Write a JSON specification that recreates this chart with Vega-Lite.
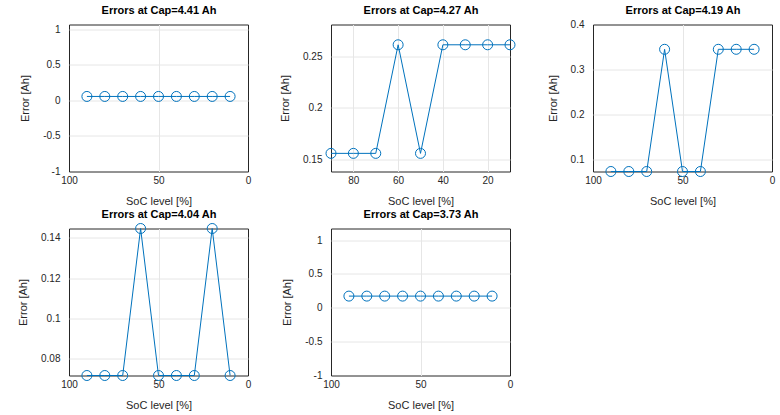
{
  "$schema": "https://vega.github.io/schema/vega-lite/v6.json",
  "background": "white",
  "padding": {"left": 17, "top": 3.5, "right": 5, "bottom": 5},
  "datasets": {
    "d": [
      {"panel": "A", "soc": 90, "err": 0.057}, {"panel": "A", "soc": 80, "err": 0.057}, {"panel": "A", "soc": 70, "err": 0.057},
      {"panel": "A", "soc": 60, "err": 0.057}, {"panel": "A", "soc": 50, "err": 0.057}, {"panel": "A", "soc": 40, "err": 0.057},
      {"panel": "A", "soc": 30, "err": 0.057}, {"panel": "A", "soc": 20, "err": 0.057}, {"panel": "A", "soc": 10, "err": 0.057},
      {"panel": "B", "soc": 90, "err": 0.1555}, {"panel": "B", "soc": 80, "err": 0.1555}, {"panel": "B", "soc": 70, "err": 0.1555},
      {"panel": "B", "soc": 60, "err": 0.2615}, {"panel": "B", "soc": 50, "err": 0.1555}, {"panel": "B", "soc": 40, "err": 0.2615},
      {"panel": "B", "soc": 30, "err": 0.2615}, {"panel": "B", "soc": 20, "err": 0.2615}, {"panel": "B", "soc": 10, "err": 0.2615},
      {"panel": "C", "soc": 90, "err": 0.074}, {"panel": "C", "soc": 80, "err": 0.074}, {"panel": "C", "soc": 70, "err": 0.074},
      {"panel": "C", "soc": 60, "err": 0.345}, {"panel": "C", "soc": 50, "err": 0.074}, {"panel": "C", "soc": 40, "err": 0.074},
      {"panel": "C", "soc": 30, "err": 0.345}, {"panel": "C", "soc": 20, "err": 0.345}, {"panel": "C", "soc": 10, "err": 0.345},
      {"panel": "D", "soc": 90, "err": 0.0717}, {"panel": "D", "soc": 80, "err": 0.0717}, {"panel": "D", "soc": 70, "err": 0.0717},
      {"panel": "D", "soc": 60, "err": 0.1446}, {"panel": "D", "soc": 50, "err": 0.0717}, {"panel": "D", "soc": 40, "err": 0.0717},
      {"panel": "D", "soc": 30, "err": 0.0717}, {"panel": "D", "soc": 20, "err": 0.1446}, {"panel": "D", "soc": 10, "err": 0.0717},
      {"panel": "E", "soc": 90, "err": 0.172}, {"panel": "E", "soc": 80, "err": 0.172}, {"panel": "E", "soc": 70, "err": 0.172},
      {"panel": "E", "soc": 60, "err": 0.172}, {"panel": "E", "soc": 50, "err": 0.172}, {"panel": "E", "soc": 40, "err": 0.172},
      {"panel": "E", "soc": 30, "err": 0.172}, {"panel": "E", "soc": 20, "err": 0.172}, {"panel": "E", "soc": 10, "err": 0.172}
    ]
  },
  "columns": 3,
  "spacing": {"row": 57, "column": 83},
  "bounds": "flush",
  "concat": [
    {
      "width": 179, "height": 147,
      "data": {"name": "d"},
      "transform": [{"filter": "datum.panel == 'A'"}],
      "resolve": {"axis": {"x": "independent"}},
      "layer": [
        {
          "mark": {"type": "line", "color": "#0072BD", "strokeWidth": 1},
          "encoding": {
            "x": {"field": "soc", "type": "quantitative", "title": "SoC level [%]", "scale": {"domain": [0, 100], "reverse": true, "nice": false, "zero": false}, "axis": {"values": [0, 50, 100], "labelExpr": "'' + datum.value", "gridOpacity": {"condition": {"test": "datum.value == 0 || datum.value == 100", "value": 0}, "value": 1}}},
            "y": {"field": "err", "type": "quantitative", "title": "Error [Ah]", "scale": {"domain": [-1, 1.07], "nice": false, "zero": false}, "axis": {"values": [-1, -0.5, 0, 0.5, 1], "labelExpr": "'' + datum.value", "gridOpacity": {"condition": {"test": "datum.value == -1", "value": 0}, "value": 1}}}
          }
        },
        {
          "mark": {"type": "point", "shape": "circle", "filled": false, "size": 100, "color": "#0072BD", "strokeWidth": 1, "opacity": 1},
          "encoding": {
            "x": {"field": "soc", "type": "quantitative", "title": "Errors at Cap=4.41 Ah", "scale": {"domain": [0, 100], "reverse": true, "nice": false, "zero": false}, "axis": {"orient": "top", "labels": false, "grid": false, "domain": false, "ticks": false, "titleFontWeight": "bold", "titleColor": "#000000", "titlePadding": 9.5}},
            "y": {"field": "err", "type": "quantitative", "title": "Error [Ah]", "scale": {"domain": [-1, 1.07], "nice": false, "zero": false}, "axis": {"values": [-1, -0.5, 0, 0.5, 1], "labelExpr": "'' + datum.value", "gridOpacity": {"condition": {"test": "datum.value == -1", "value": 0}, "value": 1}}}
          }
        }
      ]
    },
    {
      "width": 179, "height": 147,
      "data": {"name": "d"},
      "transform": [{"filter": "datum.panel == 'B'"}],
      "resolve": {"axis": {"x": "independent"}},
      "layer": [
        {
          "mark": {"type": "line", "color": "#0072BD", "strokeWidth": 1},
          "encoding": {
            "x": {"field": "soc", "type": "quantitative", "title": "SoC level [%]", "scale": {"domain": [10, 90], "reverse": true, "nice": false, "zero": false}, "axis": {"values": [20, 40, 60, 80], "labelExpr": "'' + datum.value"}},
            "y": {"field": "err", "type": "quantitative", "title": "Error [Ah]", "scale": {"domain": [0.1378, 0.2813], "nice": false, "zero": false}, "axis": {"values": [0.15, 0.2, 0.25], "labelExpr": "'' + datum.value"}}
          }
        },
        {
          "mark": {"type": "point", "shape": "circle", "filled": false, "size": 100, "color": "#0072BD", "strokeWidth": 1, "opacity": 1},
          "encoding": {
            "x": {"field": "soc", "type": "quantitative", "title": "Errors at Cap=4.27 Ah", "scale": {"domain": [10, 90], "reverse": true, "nice": false, "zero": false}, "axis": {"orient": "top", "labels": false, "grid": false, "domain": false, "ticks": false, "titleFontWeight": "bold", "titleColor": "#000000", "titlePadding": 9.5}},
            "y": {"field": "err", "type": "quantitative", "title": "Error [Ah]", "scale": {"domain": [0.1378, 0.2813], "nice": false, "zero": false}, "axis": {"values": [0.15, 0.2, 0.25], "labelExpr": "'' + datum.value"}}
          }
        }
      ]
    },
    {
      "width": 179, "height": 147,
      "data": {"name": "d"},
      "transform": [{"filter": "datum.panel == 'C'"}],
      "resolve": {"axis": {"x": "independent"}},
      "layer": [
        {
          "mark": {"type": "line", "color": "#0072BD", "strokeWidth": 1},
          "encoding": {
            "x": {"field": "soc", "type": "quantitative", "title": "SoC level [%]", "scale": {"domain": [0, 100], "reverse": true, "nice": false, "zero": false}, "axis": {"values": [0, 50, 100], "labelExpr": "'' + datum.value", "gridOpacity": {"condition": {"test": "datum.value == 0 || datum.value == 100", "value": 0}, "value": 1}}},
            "y": {"field": "err", "type": "quantitative", "title": "Error [Ah]", "scale": {"domain": [0.074, 0.4], "nice": false, "zero": false}, "axis": {"values": [0.1, 0.2, 0.3, 0.4], "labelExpr": "'' + datum.value", "gridOpacity": {"condition": {"test": "datum.value == 0.4", "value": 0}, "value": 1}}}
          }
        },
        {
          "mark": {"type": "point", "shape": "circle", "filled": false, "size": 100, "color": "#0072BD", "strokeWidth": 1, "opacity": 1},
          "encoding": {
            "x": {"field": "soc", "type": "quantitative", "title": "Errors at Cap=4.19 Ah", "scale": {"domain": [0, 100], "reverse": true, "nice": false, "zero": false}, "axis": {"orient": "top", "labels": false, "grid": false, "domain": false, "ticks": false, "titleFontWeight": "bold", "titleColor": "#000000", "titlePadding": 9.5}},
            "y": {"field": "err", "type": "quantitative", "title": "Error [Ah]", "scale": {"domain": [0.074, 0.4], "nice": false, "zero": false}, "axis": {"values": [0.1, 0.2, 0.3, 0.4], "labelExpr": "'' + datum.value", "gridOpacity": {"condition": {"test": "datum.value == 0.4", "value": 0}, "value": 1}}}
          }
        }
      ]
    },
    {
      "width": 179, "height": 147,
      "data": {"name": "d"},
      "transform": [{"filter": "datum.panel == 'D'"}],
      "resolve": {"axis": {"x": "independent"}},
      "layer": [
        {
          "mark": {"type": "line", "color": "#0072BD", "strokeWidth": 1},
          "encoding": {
            "x": {"field": "soc", "type": "quantitative", "title": "SoC level [%]", "scale": {"domain": [0, 100], "reverse": true, "nice": false, "zero": false}, "axis": {"values": [0, 50, 100], "labelExpr": "'' + datum.value", "gridOpacity": {"condition": {"test": "datum.value == 0 || datum.value == 100", "value": 0}, "value": 1}}},
            "y": {"field": "err", "type": "quantitative", "title": "Error [Ah]", "scale": {"domain": [0.0717, 0.1446], "nice": false, "zero": false}, "axis": {"values": [0.08, 0.1, 0.12, 0.14], "labelExpr": "'' + datum.value"}}
          }
        },
        {
          "mark": {"type": "point", "shape": "circle", "filled": false, "size": 100, "color": "#0072BD", "strokeWidth": 1, "opacity": 1},
          "encoding": {
            "x": {"field": "soc", "type": "quantitative", "title": "Errors at Cap=4.04 Ah", "scale": {"domain": [0, 100], "reverse": true, "nice": false, "zero": false}, "axis": {"orient": "top", "labels": false, "grid": false, "domain": false, "ticks": false, "titleFontWeight": "bold", "titleColor": "#000000", "titlePadding": 9.5}},
            "y": {"field": "err", "type": "quantitative", "title": "Error [Ah]", "scale": {"domain": [0.0717, 0.1446], "nice": false, "zero": false}, "axis": {"values": [0.08, 0.1, 0.12, 0.14], "labelExpr": "'' + datum.value"}}
          }
        }
      ]
    },
    {
      "width": 179, "height": 147,
      "data": {"name": "d"},
      "transform": [{"filter": "datum.panel == 'E'"}],
      "resolve": {"axis": {"x": "independent"}},
      "layer": [
        {
          "mark": {"type": "line", "color": "#0072BD", "strokeWidth": 1},
          "encoding": {
            "x": {"field": "soc", "type": "quantitative", "title": "SoC level [%]", "scale": {"domain": [0, 100], "reverse": true, "nice": false, "zero": false}, "axis": {"values": [0, 50, 100], "labelExpr": "'' + datum.value", "gridOpacity": {"condition": {"test": "datum.value == 0 || datum.value == 100", "value": 0}, "value": 1}}},
            "y": {"field": "err", "type": "quantitative", "title": "Error [Ah]", "scale": {"domain": [-1, 1.17], "nice": false, "zero": false}, "axis": {"values": [-1, -0.5, 0, 0.5, 1], "labelExpr": "'' + datum.value", "gridOpacity": {"condition": {"test": "datum.value == -1", "value": 0}, "value": 1}}}
          }
        },
        {
          "mark": {"type": "point", "shape": "circle", "filled": false, "size": 100, "color": "#0072BD", "strokeWidth": 1, "opacity": 1},
          "encoding": {
            "x": {"field": "soc", "type": "quantitative", "title": "Errors at Cap=3.73 Ah", "scale": {"domain": [0, 100], "reverse": true, "nice": false, "zero": false}, "axis": {"orient": "top", "labels": false, "grid": false, "domain": false, "ticks": false, "titleFontWeight": "bold", "titleColor": "#000000", "titlePadding": 9.5}},
            "y": {"field": "err", "type": "quantitative", "title": "Error [Ah]", "scale": {"domain": [-1, 1.17], "nice": false, "zero": false}, "axis": {"values": [-1, -0.5, 0, 0.5, 1], "labelExpr": "'' + datum.value", "gridOpacity": {"condition": {"test": "datum.value == -1", "value": 0}, "value": 1}}}
          }
        }
      ]
    }
  ],
  "config": {
    "font": "Liberation Sans",
    "view": {"stroke": "#262626", "strokeWidth": 1},
    "axis": {"domain": false, "ticks": false, "grid": true, "gridColor": "#e6e6e6", "gridWidth": 1, "labelFontSize": 10, "labelColor": "#262626", "labelFlush": false, "labelOverlap": false, "titleFontSize": 11, "titleFontWeight": "normal", "titleColor": "#262626", "labelPadding": 4},
    "axisY": {"labelPadding": 9, "titlePadding": 12},
    "axisX": {"titlePadding": 10}
  }
}
